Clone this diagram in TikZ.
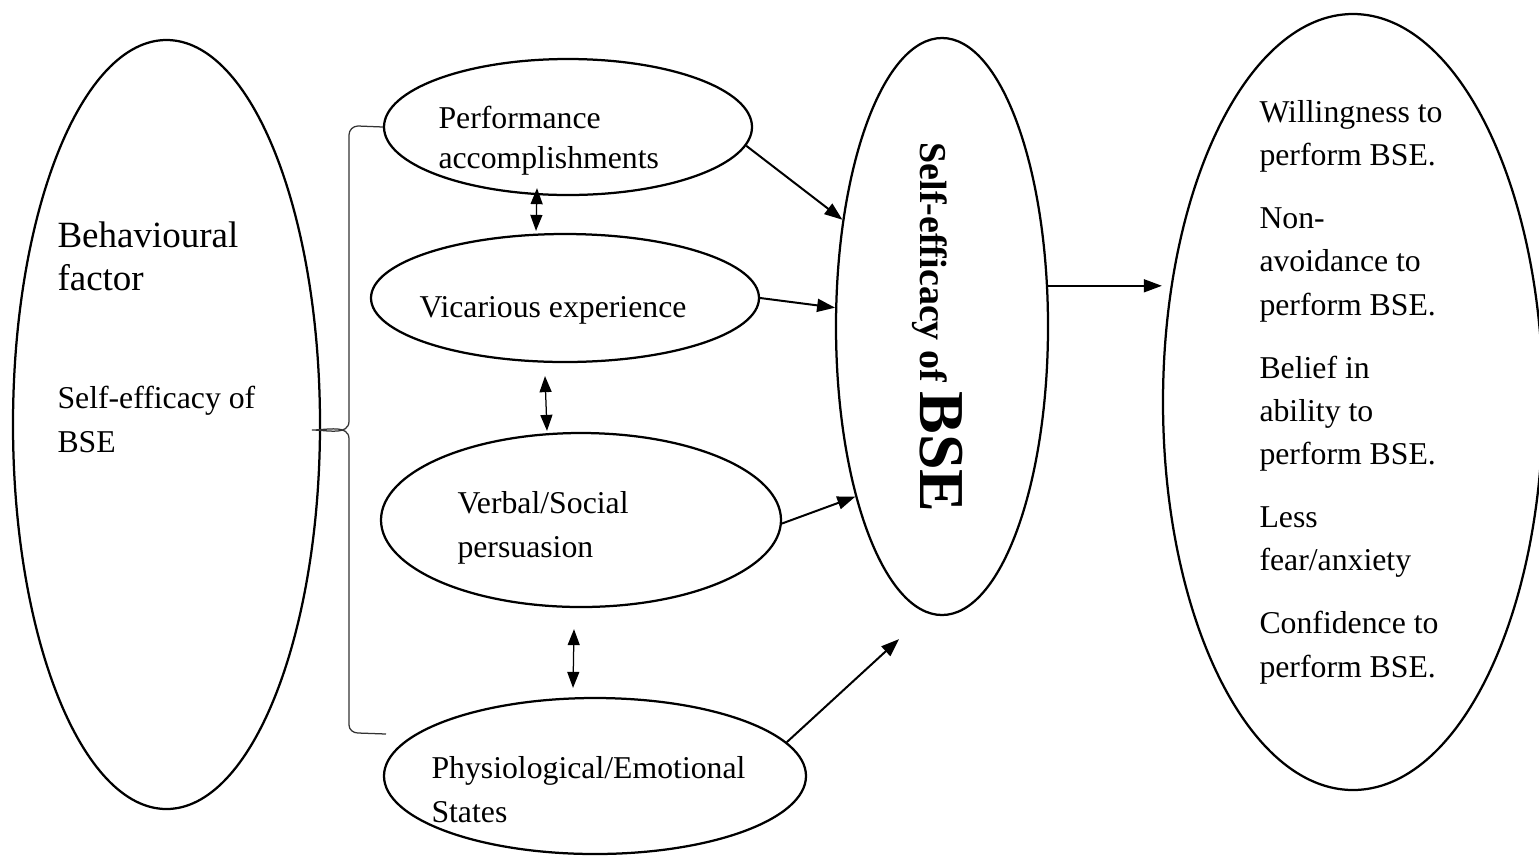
\documentclass[tikz,border=0pt]{standalone}
\usepackage{fontspec}
\setmainfont{Liberation Serif}
\usepackage{tikz}
\usetikzlibrary{calc}
\usetikzlibrary{arrows.meta}
\usetikzlibrary{shapes.geometric}

\tikzset{
  blob/.style={draw, ellipse, line width=0.9pt, inner sep=0pt},
  txt/.style={anchor=base west, inner sep=0pt, align=left,
    font=\fontsize{12.7}{17.3}\selectfont},
  link/.style={-{Triangle[length=7.2pt,width=5.2pt]}, line width=0.8pt},
  twoway/.style={{Triangle[length=6.4pt,width=4.8pt]}-{Triangle[length=6.4pt,width=4.8pt]},
    line width=0.5pt},
}

\begin{document}
\begin{tikzpicture}[x=0.4pt, y=-0.4pt]
      \useasboundingbox (0,0) rectangle (1539,855);

      \draw (166.5,424.5) node[blob, minimum width=307*0.4pt, minimum height=769*0.4pt] (B) {};
      \draw (568,127) node[blob, minimum width=368*0.4pt, minimum height=136*0.4pt] (Pa) {};
      \draw (565,298) node[blob, minimum width=388*0.4pt, minimum height=128*0.4pt] (Vi) {};
      \draw (581,520) node[blob, minimum width=400*0.4pt, minimum height=174*0.4pt] (Vs) {};
      \draw (595,776) node[blob, minimum width=422*0.4pt, minimum height=156*0.4pt] (Ph) {};
      \draw (942,326.5) node[blob, minimum width=212*0.4pt, minimum height=577*0.4pt] (S) {};
      \draw (1353,402) node[blob, minimum width=380*0.4pt, minimum height=776*0.4pt] (R) {};

      % base anchor sits on the last line
      \draw (57,290) node[txt, font=\fontsize{14.8}{17.2}\selectfont] (Bt) {Behavioural\\factor};
      \draw (57,452) node[txt] (Bs) {Self-efficacy of\\BSE};
      \draw (438,168) node[txt, font=\fontsize{12.7}{16}\selectfont] (Pat) {Performance\\accomplishments};
      \draw (419,317) node[txt] (Vit) {Vicarious experience};
      \draw (457,557) node[txt] (Vst) {Verbal/Social\\persuasion};
      \draw (431,822) node[txt] (Pht) {Physiological/Emotional\\States};
      \draw (1259,677) node[txt] (Rt) {Willingness to\\perform BSE.\\[7.9pt]
        Non-\\avoidance to\\perform BSE.\\[7.9pt]
        Belief in\\ability to\\perform BSE.\\[7.9pt]
        Less\\fear/anxiety\\[7.9pt]
        Confidence to\\perform BSE.};
      \draw (920,142) node[txt, rotate=-90, font=\fontsize{15.2}{18}\selectfont\bfseries] (St)
        {Self-efficacy of {\fontsize{25.6}{30}\selectfont BSE}};

      \coordinate (braceEnd) at (386,734);
      \draw[line width=0.5pt, black!80] (Pa.west) -- (358,126) to[out=180,in=90] (349,135)
        -- (349,421) to[out=-90,in=0] (312,430) to[out=0,in=90] (349,439)
        -- (349,725) to[out=-90,in=180] (358,733) -- (braceEnd);

      \draw[twoway] ($(Pa.south)+(-31,-8)$) -- ($(Vi.north)+(-29,-2)$);
      \draw[twoway] ($(Vi.south)+(-20,13)$) -- ($(Vs.north)+(-34,-1)$);
      \draw[twoway] ($(Vs.south)+(-7,21)$) -- ($(Ph.north)+(-22,-9)$);

      \draw[link] (Pa.-6) -- (S.133.5);
      \draw[link] (Vi.east) -- (S.170.5);
      \draw[link] (Vs.-1) -- (S.243.5);
      \draw[link] (Ph.10) -- ($(S.south)+(-43,23)$);
      \draw[link, line width=0.6pt] (S.21) -- (S.21 -| R.west);
    \end{tikzpicture}
\end{document}
